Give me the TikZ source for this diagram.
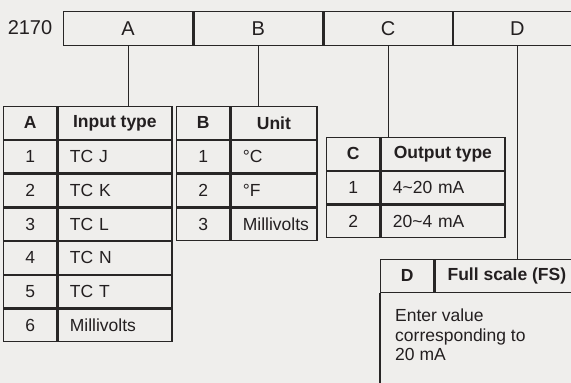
\documentclass[tikz,border=0pt]{standalone}
\usepackage{fontspec}
\setmainfont{Liberation Sans}
\usepackage{xcolor}
\usepackage{tikz}
\usetikzlibrary{positioning}

\definecolor{bgc}{RGB}{239,238,236}
\definecolor{linec}{RGB}{40,38,38}
\definecolor{txtc}{RGB}{35,31,32}

\tikzset{
  cell/.style={draw=linec, line width=1.25pt, minimum height=32.5pt, inner sep=0pt,
    anchor=north west, text=txtc, font=\fontsize{17.5}{19}\selectfont},
  num/.style={cell, minimum width=53pt},
  hd/.style={cell, font=\fontsize{17.5}{19}\selectfont\bfseries},
  txt/.style={cell, align=left, inner xsep=12pt, text width=#1},
  topc/.style={cell, minimum width=129pt, minimum height=34pt, font=\fontsize{20}{22}\selectfont},
  conn/.style={draw=linec, line width=1.1pt}
}

\begin{document}
\begin{tikzpicture}[x=1pt, y=-1pt]
    \fill[bgc] (0,0) rectangle (571,383);
    \clip (0,0) rectangle (571,383);
    % Code bar
    \node[text=txtc, font=\fontsize{20}{22}\selectfont] (code) at (30,28) {2170};
    \node[topc] (bA) at (63,11) {A};
    \node[topc, right=0pt of bA] (bB) {B};
    \node[topc, minimum width=128pt, right=0pt of bB] (bC) {C};
    \node[topc, minimum width=128pt, right=0pt of bC] (bD) {D};
    % Table A
    \node[hd, minimum width=53pt] (a0) at (3,106) {A};
    \node[hd, minimum width=114pt, right=0pt of a0] (a0t) {Input type};
    \node[num, below=0pt of a0] (a1) {1};
    \node[txt=90pt, right=0pt of a1] (a1t) {TC J};
    \node[num, below=0pt of a1] (a2) {2};
    \node[txt=90pt, right=0pt of a2] (a2t) {TC K};
    \node[num, below=0pt of a2] (a3) {3};
    \node[txt=90pt, right=0pt of a3] (a3t) {TC L};
    \node[num, below=0pt of a3] (a4) {4};
    \node[txt=90pt, right=0pt of a4] (a4t) {TC N};
    \node[num, below=0pt of a4] (a5) {5};
    \node[txt=90pt, right=0pt of a5] (a5t) {TC T};
    \node[num, below=0pt of a5] (a6) {6};
    \node[txt=90pt, right=0pt of a6] (a6t) {Millivolts};
    % Table B
    \node[hd, minimum width=53pt] (b0) at (176,106) {B};
    \node[hd, minimum width=86pt, right=0pt of b0] (b0t) {Unit};
    \node[num, below=0pt of b0] (b1) {1};
    \node[txt=62pt, right=0pt of b1] (b1t) {°C};
    \node[num, below=0pt of b1] (b2) {2};
    \node[txt=62pt, right=0pt of b2] (b2t) {°F};
    \node[num, below=0pt of b2] (b3) {3};
    \node[txt=62pt, right=0pt of b3] (b3t) {Millivolts};
    % Table C
    \node[hd, minimum width=53pt] (c0) at (326,137) {C};
    \node[hd, minimum width=124pt, right=0pt of c0] (c0t) {Output type};
    \node[num, below=0pt of c0] (c1) {1};
    \node[txt=100pt, right=0pt of c1] (c1t) {4\textasciitilde 20 mA};
    \node[num, below=0pt of c1] (c2) {2};
    \node[txt=100pt, right=0pt of c2] (c2t) {20\textasciitilde 4 mA};
    % Table D
    \node[hd, minimum width=53pt] (d0) at (380,259) {D};
    \node[hd, minimum width=144pt, right=0pt of d0] (d0t) {Full scale (FS)};
    \node[anchor=north west, align=left, inner sep=0pt, text=txtc,
      font=\fontsize{17.5}{19.5}\selectfont] (dbody) at (395,309)
      {Enter value\\corresponding to\\20 mA};
    \draw[conn, line width=1.25pt] (d0.south west) -- (d0.south west |- 0,390);
    % Connectors
    \draw[conn] (bA.south) -- (bA.south |- a0.north);
    \draw[conn] (bB.south) -- (bB.south |- b0.north);
    \draw[conn] (bC.south) -- (bC.south |- c0.north);
    \draw[conn] (bD.south) -- (bD.south |- d0.north);
\end{tikzpicture}
\end{document}
